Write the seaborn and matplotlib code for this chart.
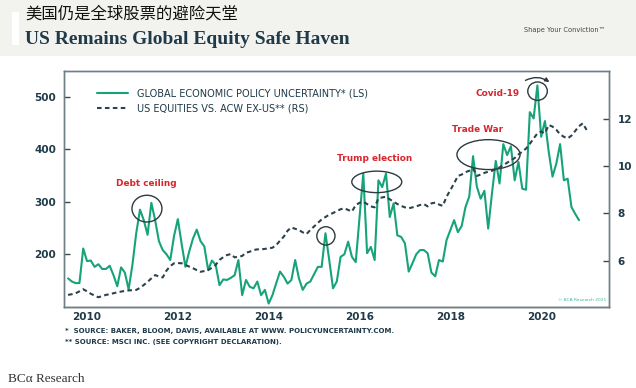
import matplotlib
matplotlib.use('Agg')
import matplotlib.pyplot as plt
import seaborn as sns
import numpy as np
import pandas as pd
from matplotlib.patches import Ellipse, Rectangle, FancyArrowPatch

# global economic policy uncertainty, monthly from Jan 2010 (left scale)
epu = [154, 148, 145, 145, 211, 187, 188, 176, 181, 172, 172, 178,
       160, 139, 175, 165, 133, 180, 240, 285, 265, 237, 298, 265,
       225, 208, 200, 189, 235, 267, 220, 176, 205, 230, 247, 225,
       215, 170, 188, 180, 141, 152, 151, 155, 160, 189, 122, 151,
       138, 135, 148, 122, 132, 106, 122, 145, 167, 157, 144, 151,
       189, 154, 132, 144, 148, 162, 176, 176, 240, 189, 135, 148,
       195, 200, 224, 195, 185, 270, 354, 202, 214, 189, 341, 328,
       354, 271, 297, 236, 233, 221, 167, 183, 200, 208, 208, 202,
       165, 158, 189, 186, 227, 246, 265, 242, 254, 290, 310, 387,
       329, 306, 321, 249, 316, 378, 335, 410, 389, 406, 341, 376,
       325, 323, 471, 459, 522, 424, 454, 395, 348, 373, 410, 341,
       344, 290, 277, 265]

# US equities vs ACW ex-US, monthly from Jan 2010 (right scale)
us_rel = [4.55, 4.58, 4.62, 4.70, 4.79, 4.70, 4.60, 4.52, 4.45, 4.50, 4.55, 4.58,
          4.62, 4.66, 4.69, 4.72, 4.74, 4.75, 4.76, 4.85, 4.97, 5.10, 5.25, 5.39,
          5.33, 5.29, 5.58, 5.77, 5.89, 5.90, 5.89, 5.82, 5.75, 5.68, 5.60, 5.53,
          5.56, 5.60, 5.70, 5.82, 6.03, 6.15, 6.24, 6.28, 6.14, 6.17, 6.20, 6.34,
          6.38, 6.45, 6.48, 6.48, 6.50, 6.52, 6.55, 6.66, 6.85, 7.02, 7.27, 7.41,
          7.35, 7.30, 7.20, 7.13, 7.30, 7.45, 7.60, 7.75, 7.85, 7.95, 8.02, 8.10,
          8.18, 8.22, 8.15, 8.08, 8.36, 8.45, 8.50, 8.40, 8.30, 8.26, 8.64, 8.68,
          8.71, 8.60, 8.50, 8.40, 8.32, 8.26, 8.22, 8.26, 8.30, 8.36, 8.40, 8.30,
          8.43, 8.46, 8.38, 8.32, 8.71, 8.99, 9.28, 9.59, 9.65, 9.75, 9.81, 9.91,
          9.59, 9.65, 9.72, 9.77, 9.81, 9.88, 9.95, 10.05, 10.15, 10.25, 10.35, 10.50,
          10.62, 10.75, 10.95, 11.18, 11.39, 11.47, 11.40, 11.75, 11.68, 11.55, 11.35, 11.25,
          11.18, 11.30, 11.50, 11.70, 11.82, 11.54]

year_labels = ['2010', '2012', '2014', '2016', '2018', '2020']
left_ticks = [200, 300, 400, 500]
right_ticks = [6, 8, 10, 12]

GREEN = '#17a37a'
DASH = '#2c434d'
NAVY = '#1f3a48'
RED = '#d7262c'


def to_year(n):
    d = pd.date_range('2010-01-31', periods=n, freq='ME')
    return d.year + d.month / 12.0


df_epu = pd.DataFrame({'x': to_year(len(epu)), 'y': epu})
df_rel = pd.DataFrame({'x': to_year(len(us_rel)), 'y': us_rel})

sns.set_style('white')
plt.rcParams['font.family'] = ['DejaVu Sans', 'Noto Sans CJK SC']

W, H = 636, 388
fig = plt.figure(figsize=(W / 100, H / 100), dpi=100)
fig.patch.set_facecolor('white')


def px(x, y):
    return x / W, 1 - y / H


# header band
fig.patches.append(Rectangle((0, 1 - 56 / H), 1, 56 / H, transform=fig.transFigure,
                             facecolor='#f2f2ee', edgecolor='none', zorder=0))
fig.patches.append(Rectangle(px(12, 45), 7 / W, 33 / H, transform=fig.transFigure,
                             facecolor='white', edgecolor='none', zorder=1))
fig.text(*px(25, 13.5), '美国仍是全球股票的避险天堂', fontsize=11.8, va='center',
         family=['Noto Sans CJK SC', 'DejaVu Sans'], color='#111111')
fig.text(*px(25, 40), 'US Remains Global Equity Safe Haven', fontsize=14, va='center',
         family='Liberation Serif', fontweight='bold', color=NAVY)
fig.text(*px(524, 30), 'Shape Your Conviction\u2122', fontsize=4.8, va='center', color='#444444')

ax = fig.add_axes([64.3 / W, (H - 306.7) / H, (609.3 - 64.3) / W, (306.7 - 70.7) / H])
ax2 = ax.twinx()

sns.lineplot(data=df_rel, x='x', y='y', ax=ax2, color=DASH, lw=1.5,
             linestyle=(0, (2.2, 1.6)), label='US EQUITIES VS. ACW EX-US** (RS)', legend=False)
sns.lineplot(data=df_epu, x='x', y='y', ax=ax, color=GREEN, lw=1.5,
             label='GLOBAL ECONOMIC POLICY UNCERTAINTY* (LS)', legend=False)

ax.set_xlim(2010, 2022)
ax.set_ylim(100, 550)
ax2.set_ylim(4.05, 14.05)
ax.set_xlabel('')
ax.set_ylabel('')
ax2.set_ylabel('')

ax.set_xticks(range(2010, 2023))
ax.set_xticklabels([])
ax.set_xticks([int(t) + 0.5 for t in year_labels], minor=True)
ax.set_xticklabels(year_labels, minor=True)
ax.set_yticks(left_ticks)
ax2.set_yticks(right_ticks)

for a in (ax, ax2):
    a.tick_params(which='both', direction='in', length=4, width=1, color='#3a4a52',
                  labelsize=7.5, labelcolor=NAVY)
    for lab in a.get_xticklabels(which='both') + a.get_yticklabels():
        lab.set_fontweight('bold')
    for s in a.spines.values():
        s.set_color('#6f7f85')
        s.set_linewidth(1.0)
ax.tick_params(axis='x', which='minor', length=0, pad=4)
ax.spines['bottom'].set_color('#2d3e45')
ax.tick_params(axis='y', pad=6)
ax2.tick_params(axis='y', pad=6)

# legend
h1, l1 = ax.get_legend_handles_labels()
h2, l2 = ax2.get_legend_handles_labels()
leg = ax.legend(h1 + h2, l1 + l2, loc='upper left', bbox_to_anchor=(0.06, 0.925),
                frameon=False, fontsize=7, handlelength=3.2, handletextpad=0.9,
                labelspacing=0.55, borderpad=0, borderaxespad=0)
for t in leg.get_texts():
    t.set_color(NAVY)

# annotations
ann = dict(color=RED, fontsize=6.4, fontweight='bold', ha='center', va='center')
ax.text(2011.8, 335, 'Debt ceiling', **ann)
ax.text(2016.84, 383, 'Trump election', **ann)
ax.text(2019.1, 437, 'Trade War', **ann)
ax.text(2019.55, 506, 'Covid-19', **ann)

ring = dict(facecolor='none', edgecolor='#2c3a40', lw=1.0, zorder=5)
ax.add_patch(Ellipse((2011.82, 287), 0.66, 51, **ring))
ax.add_patch(Ellipse((2015.76, 235), 0.40, 35, **ring))
ax.add_patch(Ellipse((2016.88, 338), 1.10, 41, **ring))
ax.add_patch(Ellipse((2019.34, 390), 1.39, 57, **ring))
ax.add_patch(Ellipse((2020.42, 511), 0.43, 35, **ring))
ax.add_patch(FancyArrowPatch((2020.1, 529), (2020.73, 525), connectionstyle='arc3,rad=-0.35',
                             arrowstyle='-|>', mutation_scale=6, color='#2c3a40', lw=1.0))

ax.text(0.995, 0.02, '\u00a9 BCA Research 2021', transform=ax.transAxes, fontsize=3.2,
        color='#3cb89a', ha='right', va='bottom')

# footnotes
foot = dict(fontsize=5, fontweight='bold', color=NAVY, va='center')
fig.text(*px(65, 331), '*  SOURCE: BAKER, BLOOM, DAVIS, AVAILABLE AT WWW. POLICYUNCERTAINTY.COM.', **foot)
fig.text(*px(65, 342), '** SOURCE: MSCI INC. (SEE COPYRIGHT DECLARATION).', **foot)
fig.text(*px(8, 379), 'BC\u03b1 Research', fontsize=9.5, family='Liberation Serif',
         color='#333333', va='center')

fig.savefig('out.png', dpi=100)
